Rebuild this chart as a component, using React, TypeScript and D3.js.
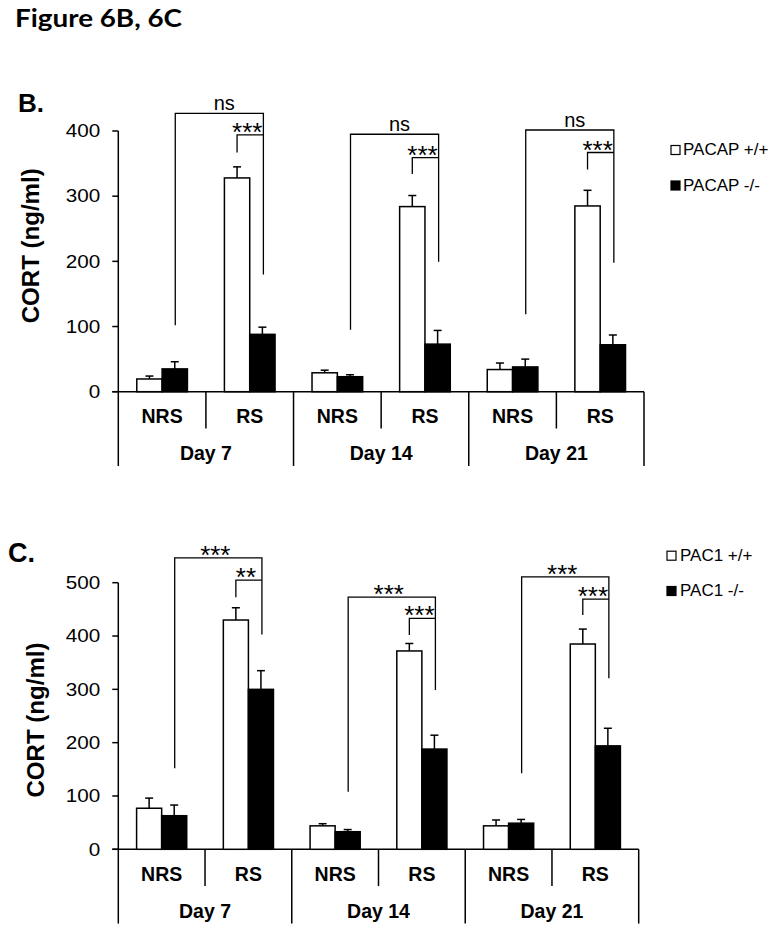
import React from "react";
import * as d3 from "d3";

// ---------- data ----------
const days = ["Day 7", "Day 14", "Day 21"];
const conditions = ["NRS", "RS"];
const subgroups = days.flatMap((d) => conditions.map((c) => `${d}|${c}`));

// Panel B (PACAP) — order: D7 NRS, D7 RS, D14 NRS, D14 RS, D21 NRS, D21 RS
const yTicksB = [0, 100, 200, 300, 400];
const pacapWT = [19.5, 328, 29, 284, 34, 285];
const pacapWTErr = [4.5, 17, 4, 17, 10, 24];
const pacapKO = [35, 88, 23, 73, 38, 72];
const pacapKOErr = [11, 11, 3, 21, 12, 15];
const legendB = ["PACAP +/+", "PACAP -/-"];
// brackets (value units): outer bar, outer left leg end, outer right leg end, inner bar, inner left leg end
const bracketsB = [
  { outer: 427, outerL: 102, outerR: 180, inner: 394, innerL: 367, outerLabel: "ns", innerLabel: "***" },
  { outer: 395, outerL: 95, outerR: 199.5, inner: 359, innerL: 334, outerLabel: "ns", innerLabel: "***" },
  { outer: 401.5, outerL: 119, outerR: 198, inner: 367, innerL: 341, outerLabel: "ns", innerLabel: "***" },
];

// Panel C (PAC1)
const yTicksC = [0, 100, 200, 300, 400, 500];
const pac1WT = [77, 430, 44, 372, 44, 385];
const pac1WTErr = [19, 23, 4, 14, 11, 28];
const pac1KO = [63, 300, 33, 188, 49, 194];
const pac1KOErr = [20, 35, 4, 26, 7, 33];
const legendC = ["PAC1 +/+", "PAC1 -/-"];
const bracketsC = [
  { outer: 546.7, outerL: 152, outerR: 403, inner: 505, innerL: 472.5, outerLabel: "***", innerLabel: "**" },
  { outer: 473, outerL: 108, outerR: 298.7, inner: 433, innerL: 401.8, outerLabel: "***", innerLabel: "***" },
  { outer: 511, outerL: 142.5, outerR: 320.6, inner: 469.3, innerL: 439.3, outerLabel: "***", innerLabel: "***" },
];

const ARIAL = "'Liberation Sans', Arial, Helvetica, sans-serif";

type Bracket = { outer: number; outerL: number; outerR: number; inner: number; innerL: number; outerLabel: string; innerLabel: string };

type PanelCfg = {
  letter: string;
  letterX: number;
  letterY: number;
  letterSize: number;
  yMax: number;
  ticks: number[];
  top: number;
  bottom: number;
  left: number;
  right: number;
  wt: number[];
  wtErr: number[];
  ko: number[];
  koErr: number[];
  brackets: Bracket[];
  legend: string[];
  legendX: number;
  legendY: number[];
  legendTextX: number;
  yLabelX: number;
  yLabelY: number;
};

function Panel({ cfg }: { cfg: PanelCfg }) {
  const y = d3.scaleLinear().domain([0, cfg.yMax]).range([cfg.bottom, cfg.top]);
  const x = d3.scaleBand<string>().domain(subgroups).range([cfg.left, cfg.right]).padding(0);
  const band = x.bandwidth();
  const bw = band * 0.289;
  const cx = (k: string) => (x(k) as number) + band / 2;
  const y0 = y(0);
  const sw = 1.5;

  return (
    <g>
      {/* panel letter */}
      <text x={cfg.letterX} y={cfg.letterY} fontFamily={ARIAL} fontWeight="bold" fontSize={cfg.letterSize} fill="#000">
        {cfg.letter}
      </text>

      {/* y axis label */}
      <text
        transform={`translate(${cfg.yLabelX},${cfg.yLabelY}) rotate(-90)`}
        textAnchor="middle"
        fontFamily={ARIAL}
        fontWeight="bold"
        fontSize={24}
        textLength={155}
        lengthAdjust="spacingAndGlyphs"
        fill="#000"
      >
        CORT (ng/ml)
      </text>

      {/* y axis */}
      <line x1={cfg.left} x2={cfg.left} y1={y(cfg.yMax)} y2={y0} stroke="#000" strokeWidth={sw} />
      {cfg.ticks.map((t) => (
        <g key={t}>
          <line x1={cfg.left - 6} x2={cfg.left} y1={y(t)} y2={y(t)} stroke="#000" strokeWidth={sw} />
          <text
            x={cfg.left - 18}
            y={y(t) + 6.3}
            textAnchor="end"
            fontFamily={ARIAL}
            fontSize={18}
            textLength={String(t).length * 11.5}
            lengthAdjust="spacingAndGlyphs"
            fill="#000"
          >
            {t}
          </text>
        </g>
      ))}

      {/* x baseline */}
      <line x1={cfg.left - 6} x2={cfg.right} y1={y0} y2={y0} stroke="#000" strokeWidth={sw} />

      {/* category dividers */}
      {subgroups.map((k, i) => {
        const xl = x(k) as number;
        const long = i % 2 === 0;
        return (
          <line key={"d" + k} x1={xl} x2={xl} y1={y0} y2={y0 + (long ? 74.3 : 36.8)} stroke="#000" strokeWidth={sw} />
        );
      })}
      <line x1={cfg.right} x2={cfg.right} y1={y0} y2={y0 + 74.3} stroke="#000" strokeWidth={sw} />

      {/* condition labels */}
      {subgroups.map((k) => (
        <text key={"c" + k} x={cx(k)} y={y0 + 31.6} textAnchor="middle" fontFamily={ARIAL} fontWeight="bold" fontSize={19.5} fill="#000">
          {k.split("|")[1]}
        </text>
      ))}
      {/* day labels */}
      {days.map((d) => {
        const a = x(`${d}|NRS`) as number;
        const b = (x(`${d}|RS`) as number) + band;
        return (
          <text key={"g" + d} x={(a + b) / 2} y={y0 + 68.3} textAnchor="middle" fontFamily={ARIAL} fontWeight="bold" fontSize={19.5} fill="#000">
            {d}
          </text>
        );
      })}

      {/* bars */}
      {subgroups.map((k, i) => (
        <g key={"b" + k}>
          <rect x={cx(k) - bw} y={y(cfg.wt[i])} width={bw} height={y0 - y(cfg.wt[i])} fill="#fff" stroke="#000" strokeWidth={sw} />
          <rect x={cx(k)} y={y(cfg.ko[i])} width={bw} height={y0 - y(cfg.ko[i])} fill="#000" stroke="#000" strokeWidth={sw} />
          {/* error bars */}
          <line x1={cx(k) - bw / 2} x2={cx(k) - bw / 2} y1={y(cfg.wt[i])} y2={y(cfg.wt[i] + cfg.wtErr[i])} stroke="#000" strokeWidth={sw} />
          <line x1={cx(k) - bw / 2 - 4} x2={cx(k) - bw / 2 + 4} y1={y(cfg.wt[i] + cfg.wtErr[i])} y2={y(cfg.wt[i] + cfg.wtErr[i])} stroke="#000" strokeWidth={sw} />
          <line x1={cx(k) + bw / 2} x2={cx(k) + bw / 2} y1={y(cfg.ko[i])} y2={y(cfg.ko[i] + cfg.koErr[i])} stroke="#000" strokeWidth={sw} />
          <line x1={cx(k) + bw / 2 - 4} x2={cx(k) + bw / 2 + 4} y1={y(cfg.ko[i] + cfg.koErr[i])} y2={y(cfg.ko[i] + cfg.koErr[i])} stroke="#000" strokeWidth={sw} />
        </g>
      ))}

      {/* significance brackets */}
      {days.map((d, di) => {
        const br = cfg.brackets[di];
        const xa = cx(`${d}|NRS`) + bw / 2 + 0.5;
        const xb = cx(`${d}|RS`) + bw / 2 + 1;
        const xi = cx(`${d}|RS`) - bw / 2;
        const isNs = br.outerLabel === "ns";
        return (
          <g key={"s" + d}>
            <path
              d={`M${xa},${y(br.outerL)}V${y(br.outer)}H${xb}V${y(br.outerR)}`}
              fill="none"
              stroke="#000"
              strokeWidth={1.3}
            />
            <path d={`M${xi},${y(br.innerL)}V${y(br.inner)}H${xb}`} fill="none" stroke="#000" strokeWidth={1.3} />
            <text
              x={(xa + xb) / 2 + (isNs ? 5 : -3)}
              y={y(br.outer) + (isNs ? -3.3 : 6)}
              textAnchor="middle"
              fontFamily={ARIAL}
              fontSize={isNs ? 20 : 26}
              fill="#000"
            >
              {br.outerLabel}
            </text>
            <text
              x={(xi + xb) / 2 - 3}
              y={y(br.inner) + 6}
              textAnchor="middle"
              fontFamily={ARIAL}
              fontSize={26}
              fill="#000"
            >
              {br.innerLabel}
            </text>
          </g>
        );
      })}

      {/* legend */}
      {cfg.legend.map((lab, i) => (
        <g key={"l" + lab}>
          <rect
            x={cfg.legendX}
            y={cfg.legendY[i] - 9.5}
            width={9}
            height={9}
            fill={i === 0 ? "#fff" : "#000"}
            stroke="#000"
            strokeWidth={1.2}
          />
          <text x={cfg.legendTextX} y={cfg.legendY[i]} fontFamily={ARIAL} fontSize={17} fill="#000">
            {lab}
          </text>
        </g>
      ))}
    </g>
  );
}

const cfgB: PanelCfg = {
  letter: "B.",
  letterX: 18,
  letterY: 112,
  letterSize: 26,
  yMax: 400,
  ticks: yTicksB,
  top: 131,
  bottom: 391.7,
  left: 118.3,
  right: 644,
  wt: pacapWT,
  wtErr: pacapWTErr,
  ko: pacapKO,
  koErr: pacapKOErr,
  brackets: bracketsB,
  legend: legendB,
  legendX: 671,
  legendY: [155, 190.5],
  legendTextX: 683,
  yLabelX: 39,
  yLabelY: 245.8,
};

const cfgC: PanelCfg = {
  letter: "C.",
  letterX: 8,
  letterY: 561.5,
  letterSize: 27,
  yMax: 500,
  ticks: yTicksC,
  top: 582.7,
  bottom: 849.3,
  left: 118.3,
  right: 638.7,
  wt: pac1WT,
  wtErr: pac1WTErr,
  ko: pac1KO,
  koErr: pac1KOErr,
  brackets: bracketsC,
  legend: legendC,
  legendX: 667,
  legendY: [560.7, 596],
  legendTextX: 680,
  yLabelX: 44,
  yLabelY: 720,
};

export default function App() {
  return (
    <svg
      width={779}
      height={932}
      viewBox="0 0 779 932"
      style={{ position: "absolute", left: 0, top: 0, background: "#fff" }}
    >
      <rect x={0} y={0} width={779} height={932} fill="#fff" />
      <text
        x={15}
        y={26.7}
        fontFamily="Lato, 'Open Sans', sans-serif"
        fontWeight="bold"
        fontSize={24}
        textLength={167}
        lengthAdjust="spacingAndGlyphs"
        fill="#000"
      >
        Figure 6B, 6C
      </text>
      <Panel cfg={cfgB} />
      <Panel cfg={cfgC} />
    </svg>
  );
}
